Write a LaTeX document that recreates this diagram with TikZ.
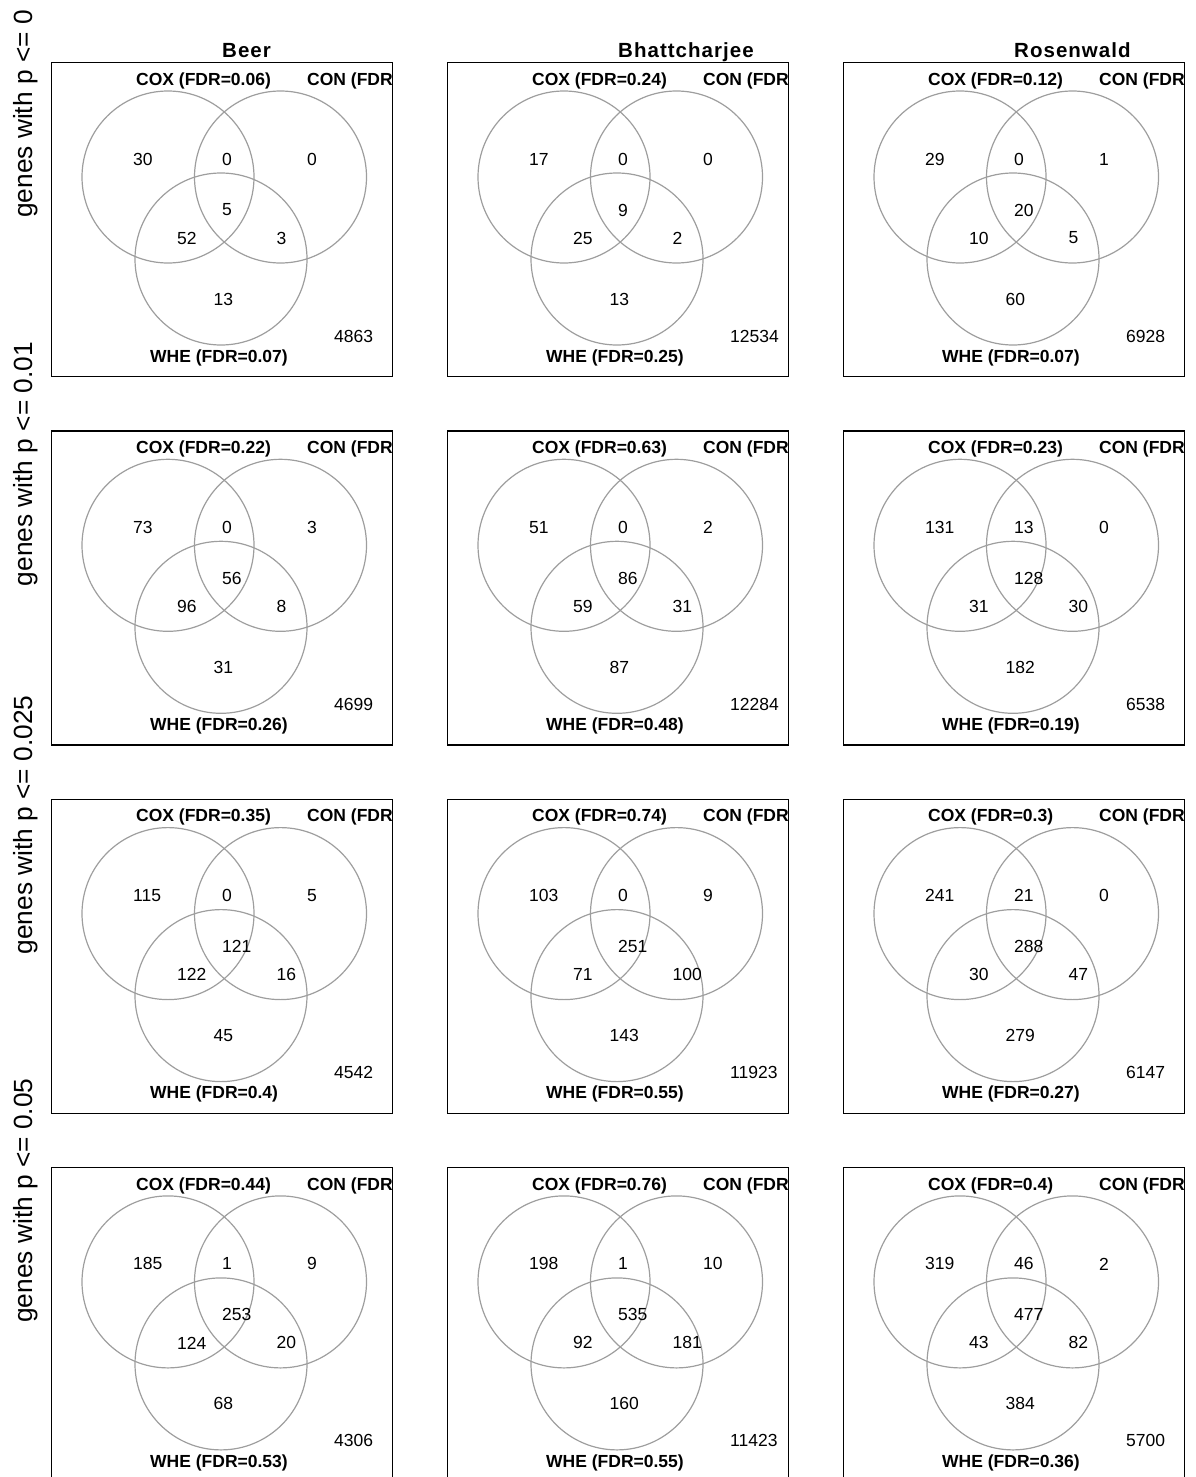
\documentclass[tikz,border=0pt]{standalone}
\usepackage{fontspec}
\setmainfont{Liberation Sans}
\newfontfamily\titlefont[LetterSpace=5]{Liberation Sans}
\usetikzlibrary{positioning}
\tikzset{
  panelbox/.style={draw=black, line width=1.4pt, minimum width=341pt, minimum height=314pt, anchor=north west, inner sep=0pt},
  venncircle/.style={circle, draw=black!38, line width=1.2pt, minimum size=172pt, inner sep=0pt},
  count/.style={anchor=west, inner sep=0pt, font=\fontsize{17.5}{20}\selectfont},
  setlabel/.style={anchor=base west, inner sep=0pt, font=\fontsize{17.5}{20}\selectfont\bfseries},
  coltitle/.style={anchor=base west, inner sep=0pt, font=\fontsize{20.5}{24}\titlefont\bfseries},
  rowlabel/.style={rotate=90, anchor=base west, inner sep=0pt, font=\fontsize{26.3}{30}\selectfont},
}
\begin{document}
\begin{tikzpicture}[x=1pt,y=-1pt]
  \useasboundingbox (0,0) rectangle (1196,1477);
  % row labels and column titles
  \foreach \r/\p in {0/0,1/0.01,2/0.025,3/0.05}{
    \node[rowlabel] (lab-\r) at (32,62+368.3*\r+156) {genes with p <= \p};
  }
  \foreach \c/\name in {0/Beer,1/Bhattcharjee,2/Rosenwald}{
    \node[coltitle] (title-\c) at (51+396*\c+171,57.3) {\name};
  }
  % one panel per data set and cut-off
  \foreach \c/\r/\cox/\whe/\na/\nab/\nb/\nabc/\nac/\nbc/\nc/\nout in {
      0/0/0.06/0.07/30/0/0/5/52/3/13/4863,
      1/0/0.24/0.25/17/0/0/9/25/2/13/12534,
      2/0/0.12/0.07/29/0/1/20/10/5/60/6928,
      0/1/0.22/0.26/73/0/3/56/96/8/31/4699,
      1/1/0.63/0.48/51/0/2/86/59/31/87/12284,
      2/1/0.23/0.19/131/13/0/128/31/30/182/6538,
      0/2/0.35/0.4/115/0/5/121/122/16/45/4542,
      1/2/0.74/0.55/103/0/9/251/71/100/143/11923,
      2/2/0.3/0.27/241/21/0/288/30/47/279/6147,
      0/3/0.44/0.53/185/1/9/253/124/20/68/4306,
      1/3/0.76/0.55/198/1/10/535/92/181/160/11423,
      2/3/0.4/0.36/319/46/2/477/43/82/384/5700}{
    \pgfmathsetmacro\L{51+396*\c}
    \pgfmathsetmacro\T{62+368.3*\r}
    \node[panelbox] (box-\r-\c) at (\L,\T) {};
    \node[venncircle] (cox-\r-\c) at (\L+117,\T+115) {};
    \node[venncircle] (con-\r-\c) at (\L+229.5,\T+115) {};
    \node[venncircle] (whe-\r-\c) at (\L+170,\T+197) {};
    \node[setlabel] (coxlab-\r-\c) at (\L+85,\T+23.3) {COX (FDR=\cox)};
    \begin{scope}
      \clip (\L,\T) rectangle (\L+341,\T+314);
      \node[setlabel] (conlab-\r-\c) at (\L+256,\T+23.3) {CON (FDR=0.00)};
    \end{scope}
    \node[setlabel] (whelab-\r-\c) at (\L+99,\T+300.3) {WHE (FDR=\whe)};
    \node[count] (a-\r-\c) at (\L+82,\T+97) {\na};
    \node[count] (ab-\r-\c) at (\L+171,\T+97) {\nab};
    \node[count] (b-\r-\c) at (\L+256,\T+97) {\nb};
    \node[count] (abc-\r-\c) at (\L+171,\T+148) {\nabc};
    \node[count] (ac-\r-\c) at (\L+126,\T+176) {\nac};
    \node[count] (bc-\r-\c) at (\L+225.5,\T+176) {\nbc};
    \node[count] (c-\r-\c) at (\L+162.5,\T+237) {\nc};
    \node[count] (out-\r-\c) at (\L+283,\T+274) {\nout};
  }
\end{tikzpicture}
\end{document}
